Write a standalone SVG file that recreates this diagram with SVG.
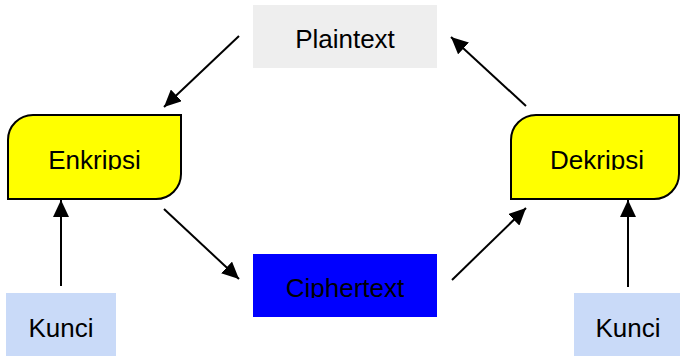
<svg xmlns="http://www.w3.org/2000/svg" width="680" height="356" viewBox="0 0 680 356">
<style>
text{font-family:"Liberation Sans",Arial,sans-serif;font-size:26px;fill:#000;text-anchor:middle}
.proc{fill:#ffff00;stroke:#000;stroke-width:2}
.conn line{stroke:#000;stroke-width:2;marker-end:url(#ah)}
</style>
<defs>
<marker id="ah" markerUnits="userSpaceOnUse" markerWidth="18" markerHeight="16" refX="17" refY="8" orient="auto">
<path d="M0,0 L17,8 L0,16 Z" fill="#000"/>
</marker>
<clipPath id="c1"><rect x="0" y="0" width="680" height="170"/></clipPath>
<clipPath id="c2"><rect x="0" y="0" width="680" height="298"/></clipPath>
</defs>
<rect width="680" height="356" fill="#fff"/>
<g id="plaintext">
<rect x="253" y="5" width="184" height="63" fill="#eeeeee"/>
<text x="345" y="48">Plaintext</text>
</g>
<g id="enkripsi">
<path class="proc" d="M33,115 H181 V174 A25,25 0 0 1 156,199 H8 V140 A25,25 0 0 1 33,115 Z"/>
<text x="94.5" y="169" clip-path="url(#c1)">Enkripsi</text>
</g>
<g id="dekripsi">
<path class="proc" d="M536,115 H679 V174 A25,25 0 0 1 654,199 H511 V140 A25,25 0 0 1 536,115 Z"/>
<text x="597" y="169" clip-path="url(#c1)">Dekripsi</text>
</g>
<g id="ciphertext">
<rect x="253" y="254" width="184" height="63" fill="#0000ff"/>
<text x="345" y="297" clip-path="url(#c2)">Ciphertext</text>
</g>
<g id="kunci1">
<rect x="6" y="293" width="110" height="63" fill="#c9daf8"/>
<text x="61" y="337">Kunci</text>
</g>
<g id="kunci2">
<rect x="574" y="293" width="106" height="63" fill="#c9daf8"/>
<text x="628" y="337">Kunci</text>
</g>
<g id="connectors" class="conn">
<line x1="239" y1="36" x2="164" y2="107"/>
<line x1="164" y1="209" x2="239" y2="279"/>
<line x1="452" y1="280" x2="526" y2="208"/>
<line x1="526" y1="106" x2="451" y2="37"/>
<line x1="61" y1="286" x2="61" y2="200"/>
<line x1="628" y1="287" x2="628" y2="200"/>
</g>
</svg>
